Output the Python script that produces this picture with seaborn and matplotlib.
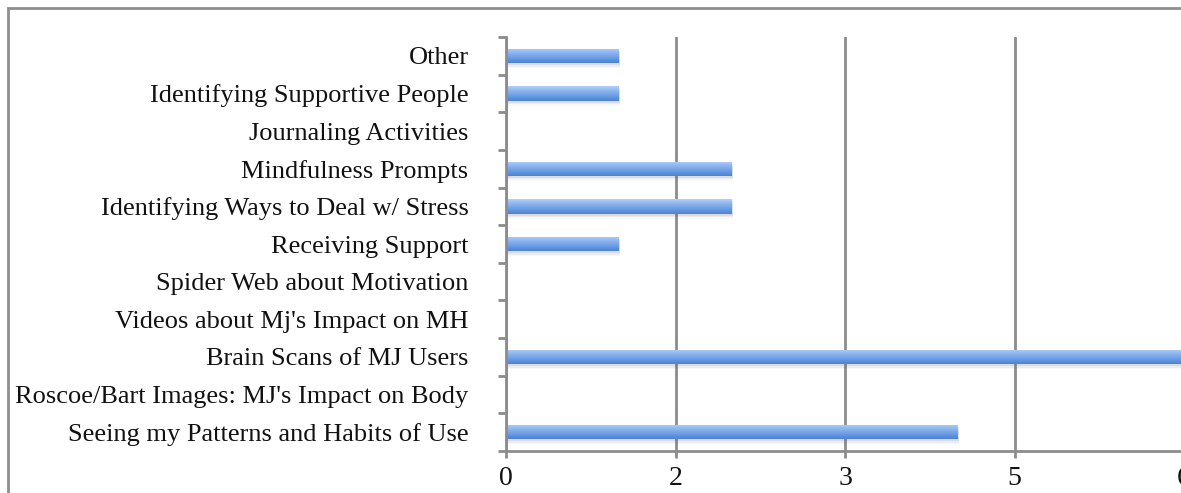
import numpy as np
import pandas as pd
import matplotlib
matplotlib.use("Agg")
import matplotlib.pyplot as plt
from matplotlib.patches import Rectangle
from matplotlib.colors import LinearSegmentedColormap
import seaborn as sns

# Activities (top to bottom) and the number of participants naming each one
activities = [
    "Other",
    "Identifying Supportive People",
    "Journaling Activities",
    "Mindfulness Prompts",
    "Identifying Ways to Deal w/ Stress",
    "Receiving Support",
    "Spider Web about Motivation",
    "Videos about Mj's Impact on MH",
    "Brain Scans of MJ Users",
    "Roscoe/Bart Images: MJ's Impact on Body",
    "Seeing my Patterns and Habits of Use",
]
counts = [1, 1, 0, 2, 2, 1, 0, 0, 6, 0, 4]

x_ticks = [0, 1.5, 3, 4.5, 6]
x_tick_labels = ["0", "2", "3", "5", "6"]

df = pd.DataFrame({"activity": activities, "count": counts})

sns.set_theme(style="white")
plt.rcParams["font.family"] = ["Liberation Serif", "DejaVu Serif"]

W, H = 1181, 493
fig = plt.figure(figsize=(W / 100, H / 100), dpi=100)

# chart frame
fig.patches.append(Rectangle((8 / W, -0.1), 1.2, 1 - 8 / H + 0.1,
                             transform=fig.transFigure, fill=False,
                             edgecolor="#8e8e8e", linewidth=2.0, zorder=0))

ax = fig.add_axes([506 / W, 1 - 451 / H, (1184 - 506) / W, (451 - 37) / H])
ax.set_facecolor("none")

sns.barplot(data=df, x="count", y="activity", orient="h", ax=ax,
            color="#5e93e0", width=0.38, saturation=1, linewidth=0, zorder=3)

# soft shadow and top-to-bottom gradient on each bar
grad = LinearSegmentedColormap.from_list(
    "barfill", ["#b2cff8", "#8ab3ee", "#6a9ce4", "#4a82d4"])
gradient = np.linspace(0, 1, 64).reshape(-1, 1)
for patch in list(ax.patches):
    w = patch.get_width()
    if w <= 0:
        continue
    x0, y0 = patch.get_x(), patch.get_y()
    h = patch.get_height()
    for k, a in enumerate([0.10, 0.07, 0.04]):
        ax.add_patch(Rectangle((x0 + 0.01, y0 + h * (0.15 + 0.1 * k)), w, h,
                               facecolor="#555555", alpha=a, linewidth=0,
                               zorder=2))
    im = ax.imshow(gradient, cmap=grad, aspect="auto",
                   extent=(x0, x0 + w, y0 + h, y0), zorder=4,
                   interpolation="bicubic")
    im.set_clip_path(patch)

ax.set_xlim(0, 6)
ax.set_ylim(len(activities) - 0.5, -0.5)

ax.set_xticks(x_ticks)
ax.set_xticklabels(x_tick_labels)
ax.set_yticks(range(len(activities)))
ax.set_yticks(np.arange(-0.5, len(activities), 1), minor=True)

gray = "#8c8c8c"
ax.grid(axis="x", color=gray, linewidth=2.0, zorder=1)
ax.grid(axis="y", visible=False)
ax.set_axisbelow(True)

for side in ["top", "right"]:
    ax.spines[side].set_visible(False)
for side in ["left", "bottom"]:
    ax.spines[side].set_color(gray)
    ax.spines[side].set_linewidth(2.0)
    ax.spines[side].set_zorder(5)

ax.tick_params(axis="y", which="major", length=0, pad=27, labelsize=19,
               labelcolor="#111111")
ax.tick_params(axis="y", which="minor", left=True, length=6, width=2,
               color=gray)
ax.tick_params(axis="x", which="major", bottom=True, length=5, width=2,
               color=gray, pad=6, labelsize=20, labelcolor="#111111")

ax.set_xlabel("")
ax.set_ylabel("")

fig.savefig("out.png", dpi=100)
